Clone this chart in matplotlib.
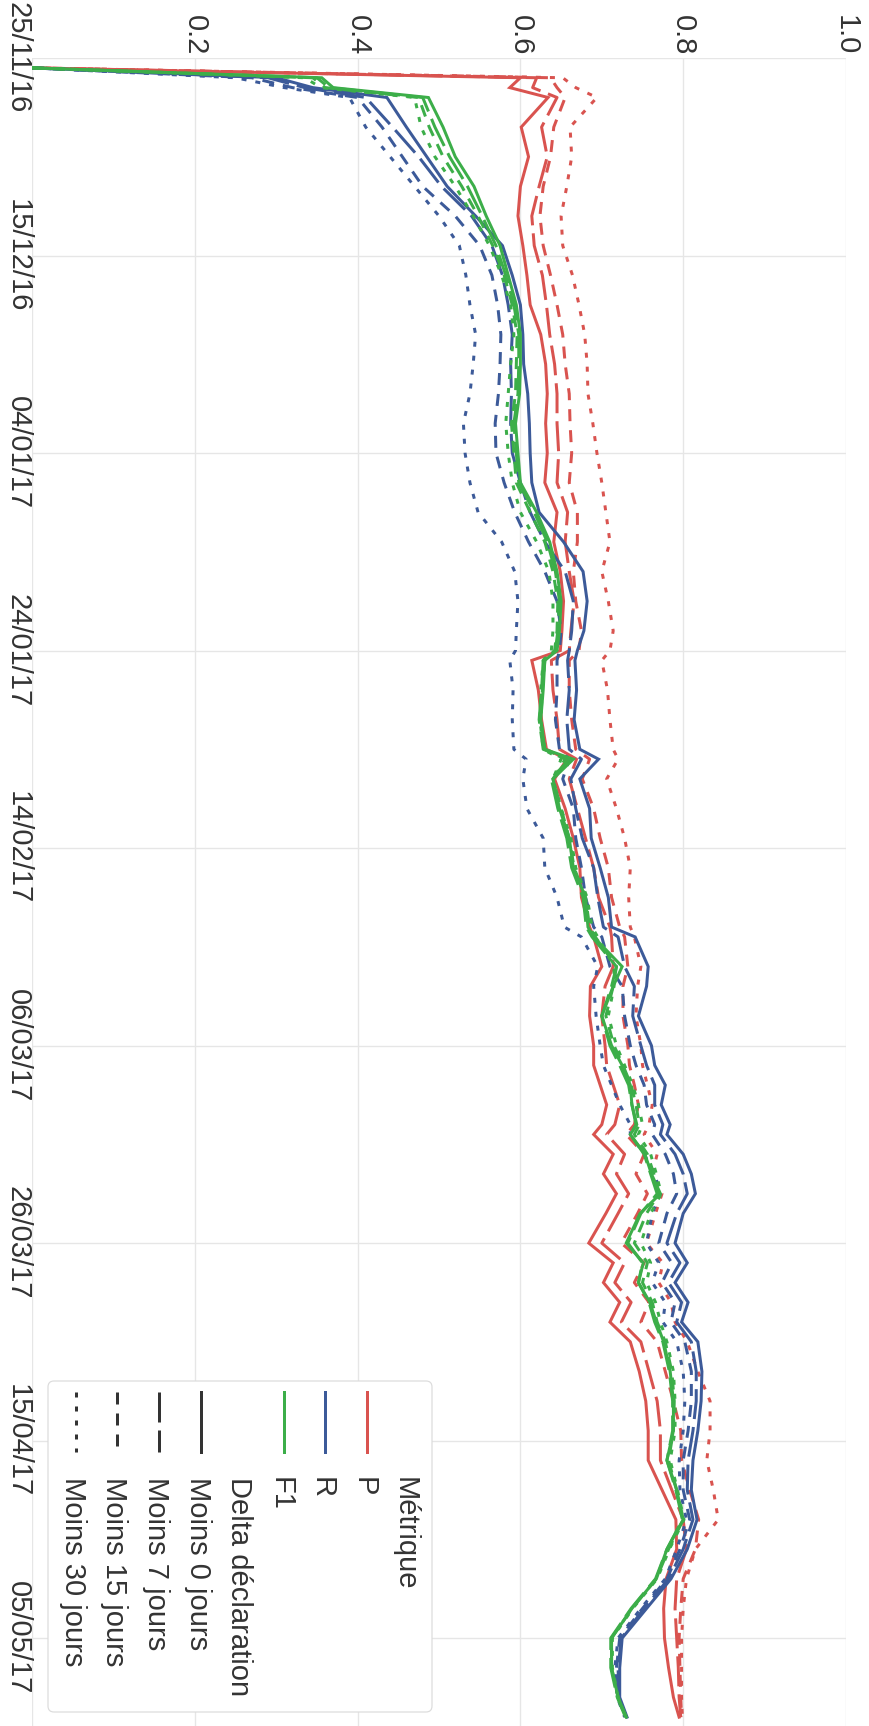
import matplotlib
matplotlib.use("Agg")
import matplotlib.pyplot as plt
import matplotlib.transforms as mtransforms
from matplotlib.lines import Line2D
from matplotlib.patches import FancyBboxPatch

plt.rcParams["font.family"] = ["Liberation Sans", "DejaVu Sans"]
plt.rcParams["lines.scale_dashes"] = False

W, H, DPI = 870, 1726, 100

# ---- data -----------------------------------------------------------------
# day index counted from 25/11/16
days = [1, 2, 3, 4, 7, 10, 13, 16, 19, 22, 25, 28,
        31, 34, 37, 40, 43, 46, 49, 52, 55,
        58, 60, 61, 64, 67, 70, 71, 73, 76, 79, 82, 85, 88, 89, 92, 94, 97, 100, 102, 104,
        106, 108, 109, 111, 113, 115, 117, 120, 122, 124, 126, 128, 130, 133,
        136, 139, 142, 145, 148, 151, 154, 157, 160, 163, 166, 168]

date_tick_pos = [0, 20, 40, 60, 80, 100, 120, 140, 160]
date_tick_labels = ["25/11/16", "15/12/16", "04/01/17", "24/01/17", "14/02/17",
                    "06/03/17", "26/03/17", "15/04/17", "05/05/17"]
value_ticks = [0.2, 0.4, 0.6, 0.8, 1.0]

p_0 = [0, 0.600, 0.587, 0.634, 0.601, 0.610, 0.600, 0.597, 0.603, 0.608, 0.612, 0.625,
       0.631, 0.633, 0.631, 0.633, 0.630, 0.645, 0.641, 0.649, 0.653,
       0.651, 0.649, 0.614, 0.622, 0.626, 0.632, 0.657, 0.642, 0.655, 0.665, 0.673, 0.675, 0.685, 0.690, 0.700, 0.686, 0.685, 0.690, 0.690, 0.698,
       0.706, 0.700, 0.690, 0.714, 0.702, 0.718, 0.705, 0.684, 0.714, 0.702, 0.722, 0.710, 0.735, 0.746,
       0.754, 0.757, 0.757, 0.774, 0.791, 0.792, 0.779, 0.776, 0.777, 0.782, 0.788, 0.795]
p_7 = [0, 0.620, 0.615, 0.645, 0.626, 0.633, 0.623, 0.614, 0.617, 0.627, 0.632, 0.636,
       0.642, 0.645, 0.645, 0.647, 0.645, 0.658, 0.655, 0.660, 0.666,
       0.662, 0.660, 0.638, 0.640, 0.645, 0.648, 0.669, 0.660, 0.670, 0.680, 0.690, 0.696, 0.710, 0.712, 0.714, 0.704, 0.700, 0.704, 0.706, 0.714,
       0.722, 0.716, 0.706, 0.728, 0.718, 0.733, 0.720, 0.700, 0.728, 0.716, 0.736, 0.724, 0.748, 0.758,
       0.768, 0.772, 0.772, 0.786, 0.800, 0.804, 0.792, 0.790, 0.792, 0.794, 0.795, 0.797]
p_15 = [0, 0.637, 0.645, 0.655, 0.641, 0.637, 0.628, 0.624, 0.628, 0.637, 0.645, 0.652,
        0.655, 0.660, 0.661, 0.663, 0.660, 0.670, 0.670, 0.665, 0.668,
        0.675, 0.672, 0.660, 0.660, 0.663, 0.668, 0.685, 0.676, 0.690, 0.698, 0.708, 0.712, 0.722, 0.728, 0.732, 0.726, 0.726, 0.732, 0.734, 0.740,
        0.745, 0.740, 0.730, 0.752, 0.742, 0.756, 0.744, 0.724, 0.752, 0.740, 0.758, 0.748, 0.768, 0.778,
        0.788, 0.797, 0.798, 0.808, 0.819, 0.815, 0.800, 0.797, 0.795, 0.796, 0.797, 0.798]
p_30 = [0, 0.652, 0.668, 0.694, 0.661, 0.663, 0.657, 0.650, 0.652, 0.664, 0.672, 0.679,
        0.682, 0.683, 0.689, 0.694, 0.700, 0.705, 0.710, 0.700, 0.708,
        0.714, 0.710, 0.700, 0.707, 0.710, 0.714, 0.720, 0.706, 0.718, 0.728, 0.735, 0.733, 0.735, 0.740, 0.748, 0.744, 0.742, 0.748, 0.750, 0.756,
        0.762, 0.758, 0.752, 0.768, 0.762, 0.774, 0.766, 0.755, 0.775, 0.770, 0.785, 0.790, 0.805, 0.818,
        0.833, 0.833, 0.829, 0.837, 0.843, 0.815, 0.804, 0.800, 0.798, 0.798, 0.798, 0.799]

r_0 = [0, 0.300, 0.345, 0.436, 0.460, 0.485, 0.510, 0.545, 0.578, 0.590, 0.600, 0.603,
       0.604, 0.609, 0.611, 0.612, 0.614, 0.623, 0.653, 0.677, 0.682,
       0.678, 0.670, 0.667, 0.669, 0.666, 0.673, 0.696, 0.673, 0.685, 0.687, 0.698, 0.708, 0.712, 0.741, 0.757, 0.755, 0.745, 0.761, 0.765, 0.778,
       0.773, 0.784, 0.780, 0.800, 0.810, 0.815, 0.800, 0.790, 0.805, 0.790, 0.806, 0.798, 0.818, 0.823,
       0.822, 0.818, 0.812, 0.810, 0.817, 0.805, 0.785, 0.755, 0.725, 0.722, 0.722, 0.731]
r_7 = [0, 0.290, 0.335, 0.410, 0.443, 0.475, 0.503, 0.540, 0.565, 0.578, 0.585, 0.590,
       0.588, 0.589, 0.588, 0.590, 0.600, 0.612, 0.630, 0.655, 0.665,
       0.663, 0.660, 0.658, 0.660, 0.657, 0.660, 0.675, 0.662, 0.668, 0.676, 0.690, 0.695, 0.702, 0.720, 0.728, 0.740, 0.738, 0.748, 0.755, 0.765,
       0.765, 0.775, 0.772, 0.790, 0.800, 0.805, 0.792, 0.780, 0.796, 0.782, 0.798, 0.792, 0.810, 0.816,
       0.816, 0.812, 0.806, 0.805, 0.812, 0.800, 0.782, 0.752, 0.724, 0.720, 0.721, 0.730]
r_15 = [0, 0.270, 0.320, 0.400, 0.430, 0.455, 0.480, 0.520, 0.550, 0.565, 0.572, 0.576,
        0.575, 0.573, 0.569, 0.570, 0.580, 0.593, 0.610, 0.630, 0.645,
        0.650, 0.648, 0.645, 0.645, 0.643, 0.648, 0.660, 0.652, 0.665, 0.668, 0.675, 0.680, 0.690, 0.700, 0.710, 0.725, 0.728, 0.735, 0.742, 0.752,
        0.755, 0.765, 0.762, 0.778, 0.788, 0.792, 0.780, 0.770, 0.786, 0.774, 0.790, 0.785, 0.802, 0.810,
        0.810, 0.806, 0.800, 0.800, 0.808, 0.796, 0.780, 0.750, 0.722, 0.718, 0.720, 0.729]
r_30 = [0, 0.250, 0.310, 0.390, 0.410, 0.440, 0.470, 0.500, 0.525, 0.533, 0.538, 0.545,
        0.542, 0.538, 0.530, 0.532, 0.538, 0.548, 0.577, 0.593, 0.597,
        0.595, 0.594, 0.587, 0.591, 0.590, 0.592, 0.607, 0.603, 0.608, 0.628, 0.630, 0.645, 0.654, 0.675, 0.695, 0.690, 0.693, 0.698, 0.702, 0.712,
        0.722, 0.735, 0.735, 0.752, 0.765, 0.772, 0.762, 0.755, 0.770, 0.762, 0.778, 0.775, 0.792, 0.800,
        0.802, 0.800, 0.795, 0.796, 0.804, 0.792, 0.778, 0.748, 0.720, 0.716, 0.719, 0.728]

f1_0 = [0, 0.356, 0.370, 0.487, 0.505, 0.520, 0.543, 0.558, 0.575, 0.585, 0.595, 0.600,
        0.600, 0.599, 0.594, 0.597, 0.600, 0.620, 0.636, 0.645, 0.650,
        0.648, 0.645, 0.630, 0.628, 0.625, 0.630, 0.665, 0.640, 0.648, 0.660, 0.665, 0.680, 0.683, 0.690, 0.725, 0.714, 0.700, 0.712, 0.725, 0.735,
        0.737, 0.743, 0.735, 0.753, 0.761, 0.772, 0.747, 0.730, 0.751, 0.745, 0.759, 0.767, 0.776, 0.784,
        0.788, 0.788, 0.780, 0.792, 0.800, 0.780, 0.767, 0.737, 0.712, 0.712, 0.720, 0.730]
f1_7 = [0, 0.350, 0.365, 0.480, 0.495, 0.513, 0.535, 0.553, 0.570, 0.582, 0.592, 0.598,
        0.598, 0.597, 0.592, 0.595, 0.598, 0.617, 0.633, 0.643, 0.648,
        0.646, 0.643, 0.628, 0.626, 0.623, 0.628, 0.660, 0.638, 0.646, 0.657, 0.663, 0.677, 0.681, 0.688, 0.718, 0.712, 0.700, 0.710, 0.722, 0.733,
        0.737, 0.742, 0.735, 0.752, 0.760, 0.768, 0.748, 0.732, 0.750, 0.745, 0.758, 0.765, 0.775, 0.783,
        0.787, 0.787, 0.780, 0.791, 0.799, 0.780, 0.766, 0.736, 0.711, 0.711, 0.719, 0.729]
f1_15 = [0, 0.345, 0.360, 0.475, 0.488, 0.505, 0.528, 0.548, 0.566, 0.580, 0.590, 0.596,
         0.595, 0.594, 0.589, 0.592, 0.595, 0.612, 0.630, 0.640, 0.646,
         0.645, 0.642, 0.630, 0.627, 0.625, 0.630, 0.655, 0.640, 0.650, 0.660, 0.666, 0.680, 0.685, 0.692, 0.718, 0.714, 0.705, 0.715, 0.726, 0.736,
         0.742, 0.746, 0.740, 0.756, 0.764, 0.770, 0.755, 0.740, 0.756, 0.750, 0.762, 0.768, 0.778, 0.786,
         0.789, 0.788, 0.782, 0.792, 0.800, 0.782, 0.767, 0.737, 0.712, 0.712, 0.720, 0.730]
f1_30 = [0, 0.335, 0.355, 0.470, 0.478, 0.495, 0.520, 0.542, 0.562, 0.577, 0.588, 0.592,
         0.588, 0.585, 0.582, 0.585, 0.590, 0.600, 0.620, 0.635, 0.640,
         0.640, 0.638, 0.628, 0.625, 0.624, 0.628, 0.650, 0.640, 0.650, 0.662, 0.668, 0.682, 0.688, 0.695, 0.715, 0.715, 0.708, 0.718, 0.728, 0.738,
         0.745, 0.750, 0.745, 0.760, 0.767, 0.773, 0.760, 0.748, 0.760, 0.755, 0.766, 0.772, 0.780, 0.788,
         0.790, 0.790, 0.784, 0.793, 0.801, 0.783, 0.768, 0.738, 0.713, 0.713, 0.720, 0.730]

metric_names = ["P", "R", "F1"]
metric_colors = ["#d9534f", "#3c5a99", "#3cae49"]
delta_names = ["Moins 0 jours", "Moins 7 jours", "Moins 15 jours", "Moins 30 jours"]
series = {
    "P": [p_0, p_7, p_15, p_30],
    "R": [r_0, r_7, r_15, r_30],
    "F1": [f1_0, f1_7, f1_15, f1_30],
}

# ---- styles ---------------------------------------------------------------
LW = 3 * 72 / DPI                       # 3 px lines
PT = 72 / DPI                           # one pixel in points
delta_dashes = [None, (30 * PT, 8 * PT), (12 * PT, 9 * PT), (5 * PT, 9 * PT)]
TEXT = "#333333"
GRID = "#e6e6e6"
FS = 21

fig = plt.figure(figsize=(W / DPI, H / DPI), dpi=DPI)
pix = mtransforms.Affine2D().scale(1.0 / DPI) + fig.dpi_scale_trans


def fx(x):
    return x


def fy(y):
    return H - y


# plot area: value runs left->right, time runs top->bottom
ax = fig.add_axes([32 / W, 0, 814 / W, 1668 / H])
ax.set_xlim(0, 1.0)
ax.set_ylim(168.9, 0)
for s in ax.spines.values():
    s.set_visible(False)

ax.set_xticks(value_ticks)
ax.set_xticklabels([f"{v:.1f}" for v in value_ticks], rotation=-90,
                   fontsize=FS, color=TEXT, ha="center", va="bottom")
ax.xaxis.set_ticks_position("top")
ax.xaxis.set_label_position("top")
ax.tick_params(axis="x", length=0, pad=2)

ax.set_yticks(date_tick_pos)
ax.set_yticklabels(date_tick_labels, rotation=-90, fontsize=FS, color=TEXT,
                   va="center", ha="right")
ax.tick_params(axis="y", length=0, pad=0)

ax.grid(True, color=GRID, lw=1.0 * PT * 1.4)
ax.axvline(0, color=GRID, lw=1.0 * PT * 1.4, zorder=0.5)
ax.set_axisbelow(True)

for name, color in zip(metric_names, metric_colors):
    for vals, dash in zip(series[name], delta_dashes):
        assert len(vals) == len(days)
        line, = ax.plot(vals, days, color=color, lw=LW, solid_joinstyle="miter",
                        clip_on=True)
        if dash is not None:
            line.set_dashes(dash)

# ---- legend (drawn by hand, rotated like the rest of the chart) ----------
box = FancyBboxPatch((48, fy(1712)), 384, 331,
                     boxstyle="round,pad=0,rounding_size=6",
                     transform=pix, fc="white", ec="#dcdcdc", lw=1.2 * PT,
                     zorder=5)
fig.add_artist(box)

col_x = [408, 367, 325, 284, 242, 201, 159, 117, 76]
labels = ["Métrique"] + metric_names + ["Delta déclaration"] + delta_names
handles = [None] + [("solid", c) for c in metric_colors] + [None] + \
          [(d, "#333333") for d in delta_dashes]
TEXT_TOP = 1477
H_TOP, H_BOT = 1392, 1452

for x, lab, hd in zip(col_x, labels, handles):
    fig.text(fx(x - 3) / W, fy(TEXT_TOP) / H, lab, rotation=-90, ha="center",
             va="top", fontsize=FS, color=TEXT, zorder=6)
    if hd is None:
        continue
    style, c = hd
    ln = Line2D([x, x], [fy(H_TOP), fy(H_BOT)], transform=pix, color=c,
                lw=LW, zorder=6)
    if style not in ("solid", None):
        ln.set_dashes(style)
    fig.add_artist(ln)

fig.savefig("out.png", dpi=DPI)
